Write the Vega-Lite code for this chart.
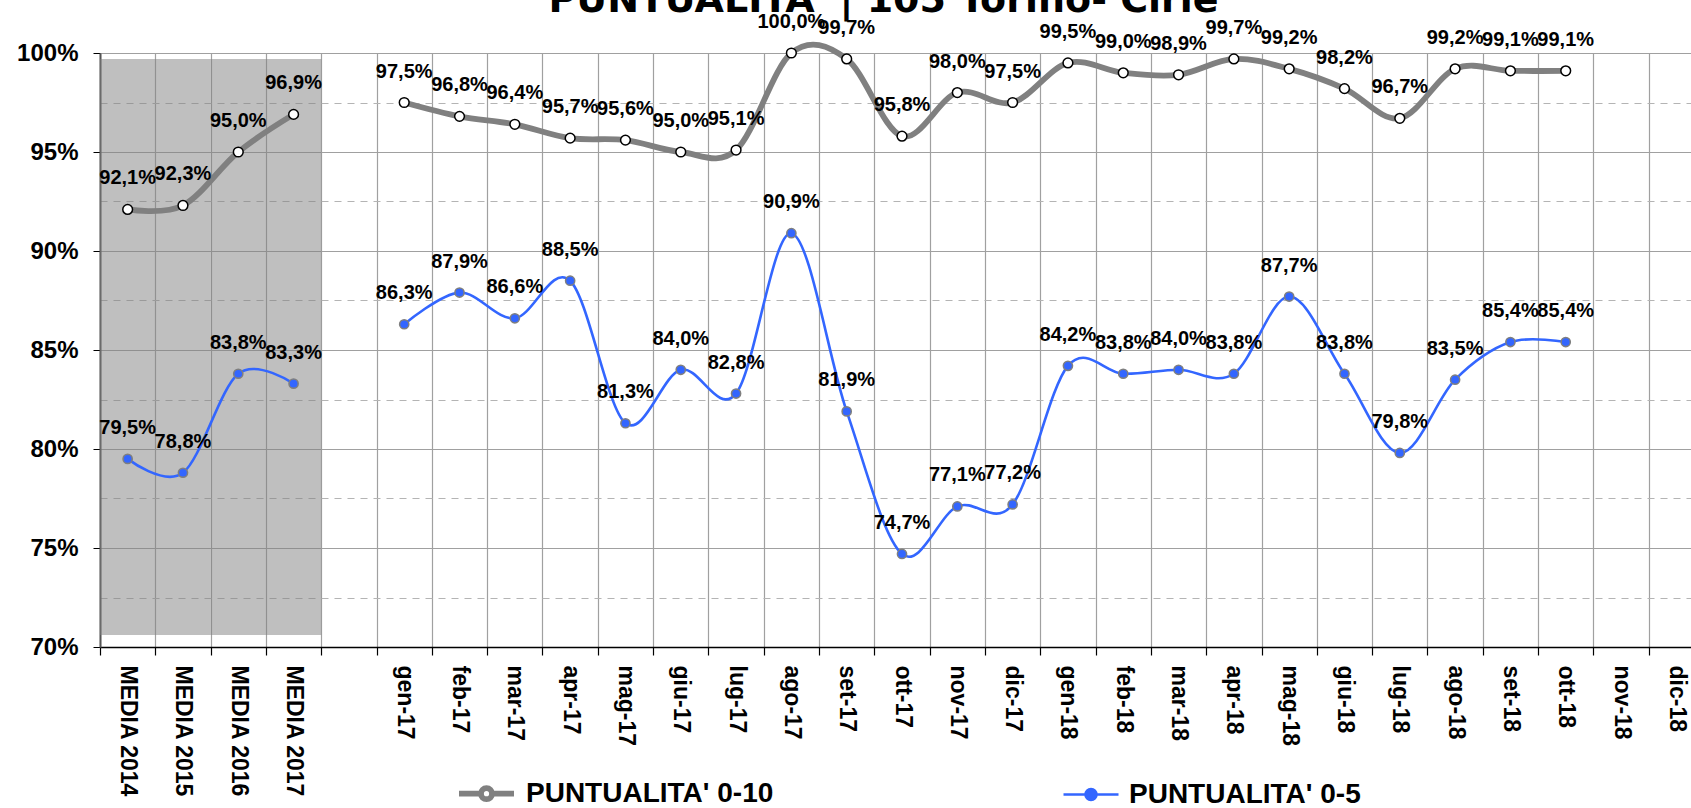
{
  "$schema": "https://vega.github.io/schema/vega-lite/v6.json",
  "autosize": {"type": "none"},
  "padding": {"left": 100, "top": 53, "right": 0, "bottom": 161},
  "width": 1591,
  "height": 594,
  "background": "white",
  "title": {
    "text": "PUNTUALITA' | 105 Torino- Ciriè",
    "fontSize": 38,
    "fontWeight": "bold",
    "font": "DejaVu Sans",
    "color": "black",
    "anchor": "middle",
    "frame": "group",
    "baseline": "alphabetic",
    "offset": 0,
    "dx": -12,
    "dy": 38
  },
  "datasets": {
    "shade": [
      {"cat": "MEDIA 2014", "lo": 0.706, "hi": 0.997},
      {"cat": "MEDIA 2015", "lo": 0.706, "hi": 0.997},
      {"cat": "MEDIA 2016", "lo": 0.706, "hi": 0.997},
      {"cat": "MEDIA 2017", "lo": 0.706, "hi": 0.997}
    ],
    "punt": [
      {"i": 1, "cat": "MEDIA 2014", "per": "media", "serie": "PUNTUALITA' 0-10", "v": 0.921},
      {"i": 2, "cat": "MEDIA 2015", "per": "media", "serie": "PUNTUALITA' 0-10", "v": 0.923},
      {"i": 3, "cat": "MEDIA 2016", "per": "media", "serie": "PUNTUALITA' 0-10", "v": 0.950},
      {"i": 4, "cat": "MEDIA 2017", "per": "media", "serie": "PUNTUALITA' 0-10", "v": 0.969},
      {"i": 5, "cat": "gen-17", "per": "mese", "serie": "PUNTUALITA' 0-10", "v": 0.975},
      {"i": 6, "cat": "feb-17", "per": "mese", "serie": "PUNTUALITA' 0-10", "v": 0.968},
      {"i": 7, "cat": "mar-17", "per": "mese", "serie": "PUNTUALITA' 0-10", "v": 0.964},
      {"i": 8, "cat": "apr-17", "per": "mese", "serie": "PUNTUALITA' 0-10", "v": 0.957},
      {"i": 9, "cat": "mag-17", "per": "mese", "serie": "PUNTUALITA' 0-10", "v": 0.956},
      {"i": 10, "cat": "giu-17", "per": "mese", "serie": "PUNTUALITA' 0-10", "v": 0.950},
      {"i": 11, "cat": "lug-17", "per": "mese", "serie": "PUNTUALITA' 0-10", "v": 0.951},
      {"i": 12, "cat": "ago-17", "per": "mese", "serie": "PUNTUALITA' 0-10", "v": 1.000},
      {"i": 13, "cat": "set-17", "per": "mese", "serie": "PUNTUALITA' 0-10", "v": 0.997},
      {"i": 14, "cat": "ott-17", "per": "mese", "serie": "PUNTUALITA' 0-10", "v": 0.958},
      {"i": 15, "cat": "nov-17", "per": "mese", "serie": "PUNTUALITA' 0-10", "v": 0.980},
      {"i": 16, "cat": "dic-17", "per": "mese", "serie": "PUNTUALITA' 0-10", "v": 0.975},
      {"i": 17, "cat": "gen-18", "per": "mese", "serie": "PUNTUALITA' 0-10", "v": 0.995},
      {"i": 18, "cat": "feb-18", "per": "mese", "serie": "PUNTUALITA' 0-10", "v": 0.990},
      {"i": 19, "cat": "mar-18", "per": "mese", "serie": "PUNTUALITA' 0-10", "v": 0.989},
      {"i": 20, "cat": "apr-18", "per": "mese", "serie": "PUNTUALITA' 0-10", "v": 0.997},
      {"i": 21, "cat": "mag-18", "per": "mese", "serie": "PUNTUALITA' 0-10", "v": 0.992},
      {"i": 22, "cat": "giu-18", "per": "mese", "serie": "PUNTUALITA' 0-10", "v": 0.982},
      {"i": 23, "cat": "lug-18", "per": "mese", "serie": "PUNTUALITA' 0-10", "v": 0.967},
      {"i": 24, "cat": "ago-18", "per": "mese", "serie": "PUNTUALITA' 0-10", "v": 0.992},
      {"i": 25, "cat": "set-18", "per": "mese", "serie": "PUNTUALITA' 0-10", "v": 0.991},
      {"i": 26, "cat": "ott-18", "per": "mese", "serie": "PUNTUALITA' 0-10", "v": 0.991},
      {"i": 1, "cat": "MEDIA 2014", "per": "media", "serie": "PUNTUALITA' 0-5", "v": 0.795},
      {"i": 2, "cat": "MEDIA 2015", "per": "media", "serie": "PUNTUALITA' 0-5", "v": 0.788},
      {"i": 3, "cat": "MEDIA 2016", "per": "media", "serie": "PUNTUALITA' 0-5", "v": 0.838},
      {"i": 4, "cat": "MEDIA 2017", "per": "media", "serie": "PUNTUALITA' 0-5", "v": 0.833},
      {"i": 5, "cat": "gen-17", "per": "mese", "serie": "PUNTUALITA' 0-5", "v": 0.863},
      {"i": 6, "cat": "feb-17", "per": "mese", "serie": "PUNTUALITA' 0-5", "v": 0.879},
      {"i": 7, "cat": "mar-17", "per": "mese", "serie": "PUNTUALITA' 0-5", "v": 0.866},
      {"i": 8, "cat": "apr-17", "per": "mese", "serie": "PUNTUALITA' 0-5", "v": 0.885},
      {"i": 9, "cat": "mag-17", "per": "mese", "serie": "PUNTUALITA' 0-5", "v": 0.813},
      {"i": 10, "cat": "giu-17", "per": "mese", "serie": "PUNTUALITA' 0-5", "v": 0.840},
      {"i": 11, "cat": "lug-17", "per": "mese", "serie": "PUNTUALITA' 0-5", "v": 0.828},
      {"i": 12, "cat": "ago-17", "per": "mese", "serie": "PUNTUALITA' 0-5", "v": 0.909},
      {"i": 13, "cat": "set-17", "per": "mese", "serie": "PUNTUALITA' 0-5", "v": 0.819},
      {"i": 14, "cat": "ott-17", "per": "mese", "serie": "PUNTUALITA' 0-5", "v": 0.747},
      {"i": 15, "cat": "nov-17", "per": "mese", "serie": "PUNTUALITA' 0-5", "v": 0.771},
      {"i": 16, "cat": "dic-17", "per": "mese", "serie": "PUNTUALITA' 0-5", "v": 0.772},
      {"i": 17, "cat": "gen-18", "per": "mese", "serie": "PUNTUALITA' 0-5", "v": 0.842},
      {"i": 18, "cat": "feb-18", "per": "mese", "serie": "PUNTUALITA' 0-5", "v": 0.838},
      {"i": 19, "cat": "mar-18", "per": "mese", "serie": "PUNTUALITA' 0-5", "v": 0.840},
      {"i": 20, "cat": "apr-18", "per": "mese", "serie": "PUNTUALITA' 0-5", "v": 0.838},
      {"i": 21, "cat": "mag-18", "per": "mese", "serie": "PUNTUALITA' 0-5", "v": 0.877},
      {"i": 22, "cat": "giu-18", "per": "mese", "serie": "PUNTUALITA' 0-5", "v": 0.838},
      {"i": 23, "cat": "lug-18", "per": "mese", "serie": "PUNTUALITA' 0-5", "v": 0.798},
      {"i": 24, "cat": "ago-18", "per": "mese", "serie": "PUNTUALITA' 0-5", "v": 0.835},
      {"i": 25, "cat": "set-18", "per": "mese", "serie": "PUNTUALITA' 0-5", "v": 0.854},
      {"i": 26, "cat": "ott-18", "per": "mese", "serie": "PUNTUALITA' 0-5", "v": 0.854}
    ]
  },
  "encoding": {
    "x": {
      "field": "cat",
      "type": "nominal",
      "title": null,
      "scale": {
        "type": "band",
        "domain": ["MEDIA 2014", "MEDIA 2015", "MEDIA 2016", "MEDIA 2017", "vuoto", "gen-17", "feb-17", "mar-17", "apr-17", "mag-17", "giu-17", "lug-17", "ago-17", "set-17", "ott-17", "nov-17", "dic-17", "gen-18", "feb-18", "mar-18", "apr-18", "mag-18", "giu-18", "lug-18", "ago-18", "set-18", "ott-18", "nov-18", "dic-18"],
        "range": [0, 1604],
        "paddingInner": 0,
        "paddingOuter": 0
      },
      "axis": {
        "labelAngle": 90,
        "labelAlign": "left",
        "labelBaseline": "middle",
        "labelFontSize": 23,
        "labelFontWeight": "bold",
        "labelFont": "Liberation Sans",
        "labelColor": "black",
        "labelPadding": 10,
        "labelExpr": "datum.value == 'vuoto' ? '' : datum.value",
        "labelOverlap": false,
        "tickBand": "extent",
        "grid": true,
        "gridColor": "#a0a0a0",
        "gridWidth": 1.2,
        "tickColor": "black",
        "tickSize": 8,
        "tickWidth": 1.2,
        "domainColor": "black",
        "domainWidth": 1.5
      }
    },
    "y": {
      "type": "quantitative",
      "title": null,
      "scale": {"domain": [0.7, 1.0], "nice": false, "zero": false},
      "axis": {
        "values": [0.7, 0.725, 0.75, 0.775, 0.8, 0.825, 0.85, 0.875, 0.9, 0.925, 0.95, 0.975, 1.0],
        "format": ".0%",
        "labelExpr": "round(datum.value * 1000) % 50 == 0 ? datum.label : ''",
        "labelFontSize": 24,
        "labelFontWeight": "bold",
        "labelFont": "Liberation Sans",
        "labelColor": "black",
        "labelPadding": 15,
        "grid": true,
        "gridColor": {"condition": {"test": "round(datum.value * 1000) % 50 != 0", "value": "#b4b4b4"}, "value": "#a0a0a0"},
        "gridDash": {"condition": {"test": "round(datum.value * 1000) % 50 != 0", "value": [7, 6]}, "value": []},
        "gridWidth": 1.2,
        "tickOpacity": {"condition": {"test": "round(datum.value * 1000) % 50 != 0", "value": 0}, "value": 1},
        "tickColor": "black",
        "tickSize": 7,
        "domainColor": "#555555",
        "domainWidth": 2
      }
    }
  },
  "layer": [
    {
      "data": {"name": "shade"},
      "mark": {"type": "bar", "fill": "#808080", "fillOpacity": 0.5, "stroke": null},
      "encoding": {
        "y": {"field": "lo", "type": "quantitative"},
        "y2": {"field": "hi"}
      }
    },
    {
      "data": {"name": "punt"},
      "mark": {"type": "line", "interpolate": "cardinal", "strokeCap": "round"},
      "encoding": {
        "y": {"field": "v", "type": "quantitative"},
        "color": {
          "field": "serie",
          "type": "nominal",
          "scale": {"domain": ["PUNTUALITA' 0-10", "PUNTUALITA' 0-5"], "range": ["#808080", "#3366ff"]},
          "legend": {
            "title": null,
            "orient": "none",
            "legendX": 356,
            "legendY": 710,
            "direction": "horizontal",
            "columnPadding": 284,
            "labelOffset": 9,
            "labelFontSize": 28,
            "labelFontWeight": "bold",
            "labelFont": "Liberation Sans",
            "labelColor": "black",
            "labelLimit": 0,
            "symbolType": "M-1,0L-0.2,0M0.2,0L1,0M0.2,0A0.2,0.2,0,1,1,-0.2,0A0.2,0.2,0,1,1,0.2,0Z",
            "symbolSize": 3025,
            "symbolStrokeWidth": 4,
            "encode": {
              "symbols": {
                "update": {
                  "fill": {"signal": "indexof(datum.value, '0-10') >= 0 ? '#ffffff' : '#3366ff'"}
                }
              }
            }
          }
        },
        "strokeWidth": {
          "field": "serie",
          "type": "nominal",
          "scale": {"domain": ["PUNTUALITA' 0-10", "PUNTUALITA' 0-5"], "range": [5.8, 2.6]},
          "legend": null
        },
        "detail": {"field": "per"},
        "order": {"field": "i", "type": "quantitative"}
      }
    },
    {
      "data": {"name": "punt"},
      "transform": [{"filter": "datum.serie == \"PUNTUALITA' 0-10\""}],
      "mark": {"type": "point", "filled": true, "fill": "white", "stroke": "black", "strokeWidth": 1.5, "size": 95, "opacity": 1},
      "encoding": {
        "y": {"field": "v", "type": "quantitative"}
      }
    },
    {
      "data": {"name": "punt"},
      "transform": [{"filter": "datum.serie == \"PUNTUALITA' 0-5\""}],
      "mark": {"type": "point", "filled": true, "fill": "#3366ff", "stroke": "#7f7f7f", "strokeWidth": 1.5, "size": 85, "opacity": 1},
      "encoding": {
        "y": {"field": "v", "type": "quantitative"}
      }
    },
    {
      "data": {"name": "punt"},
      "mark": {"type": "text", "dy": -31, "fontSize": 20, "fontWeight": "bold", "font": "Liberation Sans", "color": "black"},
      "encoding": {
        "y": {"field": "v", "type": "quantitative"},
        "text": {"field": "v", "type": "quantitative", "format": ".1%"}
      }
    }
  ],
  "config": {
    "view": {"stroke": null},
    "locale": {
      "number": {"decimal": ",", "thousands": ".", "grouping": [3], "currency": ["", " €"]}
    }
  }
}
